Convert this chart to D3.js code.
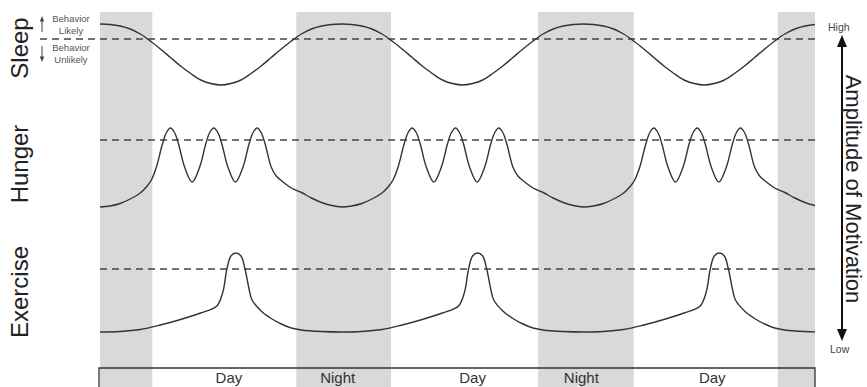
<!DOCTYPE html>
<html><head><meta charset="utf-8">
<script src="https://cdn.jsdelivr.net/npm/d3@7/dist/d3.min.js"></script>
<style>
body{margin:0;background:#fff}
svg{display:block;font-family:"Liberation Sans",Arial,Helvetica,sans-serif}
</style>
</head><body>
<svg id="chart" width="867" height="387"></svg>
<script>
// ---------------- data ----------------
const behaviors = ["Sleep", "Hunger", "Exercise"];
const thresholds = [73, 88, 75];               // "behavior likely" level per behavior
const nightStarts = [-5, 19.5, 43.5, 67.3];    // hours
const nightEnds   = [5.2, 28.9, 53.0, 77];
const periodLabels = ["Day", "Night", "Day", "Night", "Day"];
const periodLabelHours = [12.8, 23.6, 37.0, 47.8, 60.8];

const sleepHours = [0,1,2,3,4,5,6,7,8,9,10,11,12,13,14,15,16,17,18,19,20,21,22,23,
  24,25,26,27,28,29,30,31,32,33,34,35,36,37,38,39,40,41,42,43,44,45,46,47,
  48,49,50,51,52,53,54,55,56,57,58,59,60,61,62,63,64,65,66,67,68,69,70,71,72];
const sleepValues = [88,87.5,86,83,78,71,63,54.5,46,38.5,32,28.5,27,28.5,32,38.5,46,54.5,63,71,78,83,86,87.5,
  88,87.5,86,83,78,71,63,54.5,46,38.5,32,28.5,27,28.5,32,38.5,46,54.5,63,71,78,83,86,87.5,
  88,87.5,86,83,78,71,63,54.5,46,38.5,32,28.5,27,28.5,32,38.5,46,54.5,63,71,78,83,86,87.5,88];

const hungerHours = [
  0,1,2,3,4,4.6,5.1,5.6,6.2,6.6,7,7.4,7.8,8.4,9.15,9.9,10.5,10.9,11.3,11.7,12.1,12.7,13.45,14.2,14.8,15.2,15.6,16,16.4,17,17.5,18.3,19,20,21,22,23,
  24,25,26,27,28,28.6,29.1,29.6,30.2,30.6,31,31.4,31.8,32.4,33.15,33.9,34.5,34.9,35.3,35.7,36.1,36.7,37.45,38.2,38.8,39.2,39.6,40,40.4,41,41.5,42.3,43,44,45,46,47,
  48,49,50,51,52,52.6,53.1,53.6,54.2,54.6,55,55.4,55.8,56.4,57.15,57.9,58.5,58.9,59.3,59.7,60.1,60.7,61.45,62.2,62.8,63.2,63.6,64,64.4,65,65.5,66.3,67,68,69,70,71,72];
const hungerValues = [
  21,22,24.5,29,35,41,48,61,84,95.5,100,95.5,84,61,46,61,84,95.5,100,95.5,84,61,46,61,84,95.5,100,95.5,84,61,52,45,40,35.5,30,25.5,22.5,
  21,22,24.5,29,35,41,48,61,84,95.5,100,95.5,84,61,46,61,84,95.5,100,95.5,84,61,46,61,84,95.5,100,95.5,84,61,52,45,40,35.5,30,25.5,22.5,
  21,22,24.5,29,35,41,48,61,84,95.5,100,95.5,84,61,46,61,84,95.5,100,95.5,84,61,46,61,84,95.5,100,95.5,84,61,52,45,40,35.5,30,25.5,22.5,21];

const exerciseHours = [
  0,2,4,6,8,10,11.6,12.2,12.6,13,13.5,14,14.4,14.8,15.1,16,17,18,19,20,22,
  24,26,28,30,32,34,35.6,36.2,36.6,37,37.5,38,38.4,38.8,39.1,40,41,42,43,44,46,
  48,50,52,54,56,58,59.6,60.2,60.6,61,61.5,62,62.4,62.8,63.1,64,65,66,67,68,70,72];
const exerciseValues = [
  12,12.5,14.5,19,24.5,31,38,52,75,88,91,88,75,55,44,33,25.5,20,16,14,12.5,
  12,12.5,14.5,19,24.5,31,38,52,75,88,91,88,75,55,44,33,25.5,20,16,14,12.5,
  12,12.5,14.5,19,24.5,31,38,52,75,88,91,88,75,55,44,33,25.5,20,16,14,12.5,12];

const seriesHours = [sleepHours, hungerHours, exerciseHours];
const seriesValues = [sleepValues, hungerValues, exerciseValues];

// ---------------- drawing ----------------
const svg = d3.select("#chart");
const x = d3.scaleLinear().domain([0, 71]).range([100, 815]);
const yFor = i => d3.scaleLinear().domain([0, 100]).range([112 + 116 * i, 12 + 116 * i]);

svg.append("defs").append("clipPath").attr("id", "plotClip")
  .append("rect").attr("x", x(0)).attr("y", 0).attr("width", x(71) - x(0)).attr("height", 387);

// night bands
svg.append("g").selectAll("rect").data(nightStarts).join("rect")
  .attr("x", (d) => x(Math.max(d, 0)))
  .attr("width", (d, i) => x(Math.min(nightEnds[i], 71)) - x(Math.max(d, 0)))
  .attr("y", 12).attr("height", 375)
  .attr("fill", "#d9d9d9");

// bottom day/night box
svg.append("path")
  .attr("d", `M${x(0) - 1},387V368H${x(71)}V387`)
  .attr("fill", "none").attr("stroke", "#333").attr("stroke-width", 1.3);

svg.append("g").selectAll("text").data(periodLabels).join("text")
  .attr("x", (d, i) => x(periodLabelHours[i])).attr("y", 383)
  .attr("text-anchor", "middle").attr("font-size", 15).attr("fill", "#333")
  .text(d => d);

// thresholds
behaviors.forEach((b, i) => {
  const y = yFor(i);
  svg.append("line")
    .attr("x1", i === 0 ? 40 : x(0)).attr("x2", x(71))
    .attr("y1", y(thresholds[i])).attr("y2", y(thresholds[i]))
    .attr("stroke", "#444").attr("stroke-width", 1.6).attr("stroke-dasharray", "7,5");
});

// curves
behaviors.forEach((b, i) => {
  const y = yFor(i);
  const pts = seriesHours[i].map((h, k) => [h, seriesValues[i][k]]);
  const line = d3.line().x(d => x(d[0])).y(d => y(d[1])).curve(d3.curveCatmullRom.alpha(0.5));
  svg.append("path").datum(pts)
    .attr("d", line).attr("clip-path", "url(#plotClip)")
    .attr("fill", "none").attr("stroke", "#333").attr("stroke-width", 1.4);
});

// left labels
const labelCenters = [48, 164, 292];
behaviors.forEach((b, i) => {
  svg.append("text")
    .attr("transform", `translate(28,${labelCenters[i]}) rotate(-90)`)
    .attr("text-anchor", "middle").attr("font-size", 24).attr("fill", "#222")
    .text(b);
});

// behavior likely / unlikely legend
const small = svg.append("g").attr("font-size", 9.5).attr("fill", "#555").attr("text-anchor", "middle");
[["Behavior", 22], ["Likely", 34], ["Behavior", 51], ["Unlikely", 63]].forEach(([t, yy]) => {
  small.append("text").attr("x", 71).attr("y", yy).text(t);
});
svg.append("line").attr("x1", 42).attr("x2", 42).attr("y1", 32).attr("y2", 20).attr("stroke", "#444").attr("stroke-width", 1);
svg.append("path").attr("d", "M42,16L39.8,21.5H44.2Z").attr("fill", "#444");
svg.append("line").attr("x1", 42).attr("x2", 42).attr("y1", 46).attr("y2", 58).attr("stroke", "#444").attr("stroke-width", 1);
svg.append("path").attr("d", "M42,62L39.8,56.5H44.2Z").attr("fill", "#444");

// right axis
svg.append("line").attr("x1", 842).attr("x2", 842).attr("y1", 44).attr("y2", 332)
  .attr("stroke", "#111").attr("stroke-width", 2);
svg.append("path").attr("d", "M842,35L837,47H847Z").attr("fill", "#111");
svg.append("path").attr("d", "M842,341L837,329H847Z").attr("fill", "#111");
svg.append("text").attr("x", 828).attr("y", 31).attr("font-size", 10.5).attr("fill", "#444").text("High");
svg.append("text").attr("x", 830).attr("y", 353).attr("font-size", 10.5).attr("fill", "#444").text("Low");
svg.append("text")
  .attr("transform", "translate(846,189) rotate(90)")
  .attr("text-anchor", "middle").attr("font-size", 22).attr("fill", "#222")
  .text("Amplitude of Motivation");
</script>
</body></html>
